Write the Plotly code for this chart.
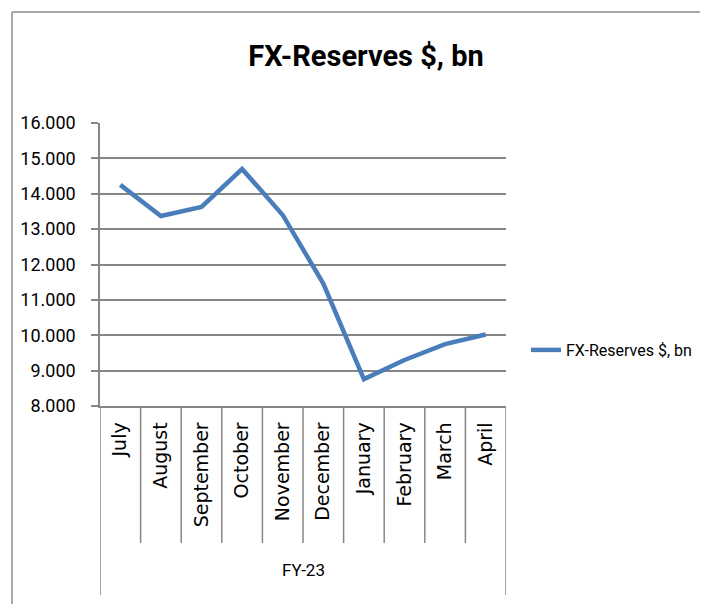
import plotly.graph_objects as go

months = ["July", "August", "September", "October", "November",
          "December", "January", "February", "March", "April"]
reserves = [14.25, 13.37, 13.63, 14.70, 13.40, 11.46, 8.76, 9.30, 9.75, 10.02]
series_name = "FX-Reserves $, bn"
group_label = "FY-23"
y_ticks = [8, 9, 10, 11, 12, 13, 14, 15, 16]

OFF = 8  # page body margin of the html page
W, H = 708 - OFF, 604 - OFF
L, R, T, B = 100 - OFF, 506 - OFF, 123 - OFF, 406 - OFF  # plot area (figure px)
PW, PH = R - L, B - T

def px_x(p):  # reference pixel -> paper x
    return (p - OFF - L) / PW

def px_y(p):  # reference pixel -> paper y
    return (B - (p - OFF)) / PH

NARROW = "Roboto, Liberation Sans, sans-serif"
GRID = "#868686"

x_idx = list(range(len(months)))

fig = go.Figure()
fig.add_trace(go.Scatter(
    x=x_idx, y=reserves, mode="lines", name=series_name,
    line=dict(color="#4A7EBB", width=4.5),
))

shapes = []
# chart outer border (top and left)
shapes.append(dict(type="line", xref="paper", yref="paper",
                   x0=px_x(12), x1=px_x(720), y0=px_y(12), y1=px_y(12),
                   line=dict(color="#8c8c8c", width=1.5)))
shapes.append(dict(type="line", xref="paper", yref="paper",
                   x0=px_x(12), x1=px_x(12), y0=px_y(12), y1=px_y(620),
                   line=dict(color="#8c8c8c", width=1.5)))
# category dividers
for k in range(len(months) + 1):
    b = k - 0.5
    outer = k == 0 or k == len(months)
    shapes.append(dict(type="line", xref="x", yref="paper",
                       x0=b, x1=b, y0=0, y1=px_y(595 if outer else 543),
                       line=dict(color=GRID, width=1.5)))
fig.update_layout(shapes=shapes)

fig.add_annotation(text=group_label, xref="x", yref="paper",
                   x=(len(months) - 1) / 2, y=px_y(582), showarrow=False,
                   font=dict(family=NARROW, size=17, color="#000000"))

fig.update_layout(
    width=W, height=H,
    margin=dict(l=L, r=W - R, t=T, b=H - B, autoexpand=False),
    paper_bgcolor="white", plot_bgcolor="white",
    title=dict(text="<b>FX-Reserves $, bn</b>", x=(366 - OFF) / W,
               xanchor="center", y=1 - (56 - OFF) / H, yanchor="middle",
               font=dict(family=NARROW, size=29, color="#000000")),
    showlegend=True,
    legend=dict(x=px_x(526), y=px_y(350), xanchor="left", yanchor="middle",
                font=dict(family=NARROW, size=16, color="#000000"),
                bgcolor="rgba(0,0,0,0)", itemwidth=30),
    xaxis=dict(range=[-0.5, len(months) - 0.5], tickmode="array",
               tickvals=x_idx, ticktext=months, tickangle=-90,
               ticks="", showgrid=False, zeroline=False,
               showline=True, linecolor=GRID, linewidth=1.5,
               ticklabelstandoff=7,
               tickfont=dict(family="DejaVu Sans", size=19, color="#000000")),
    yaxis=dict(range=[8, 16], tickmode="array", tickvals=y_ticks,
               tickformat=".3f", ticks="outside", ticklen=7, tickcolor=GRID,
               tickwidth=1.5, showgrid=True, gridcolor=GRID, gridwidth=1.5,
               zeroline=False, showline=True, linecolor=GRID, linewidth=1.5,
               ticklabelstandoff=12,
               tickfont=dict(family=NARROW, size=18, color="#000000")),
)

fig.write_html("out.html")
